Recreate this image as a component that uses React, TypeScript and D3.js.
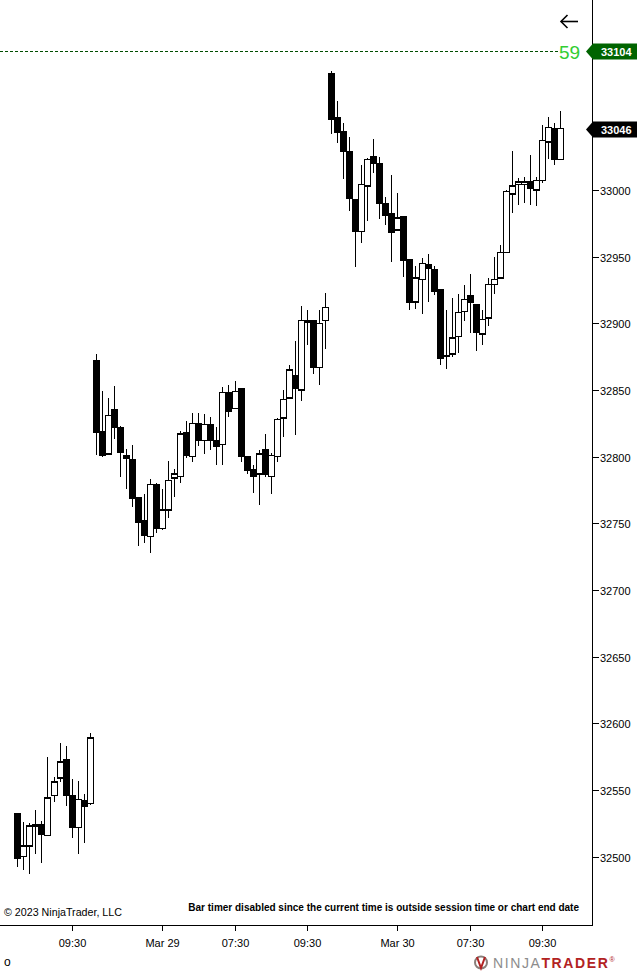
import React from "react";
import * as d3 from "d3";

// OHLC of each bar (YM, 10 min bars)
const opens = [
  32532, 32500, 32508, 32523, 32524, 32516, 32546, 32559, 32573, 32546, 32522, 32542, 32540,
  32872, 32819, 32802, 32835, 32822, 32801, 32798, 32769, 32752, 32740, 32779, 32746, 32760,
  32784, 32785, 32818, 32800, 32825, 32812, 32824, 32812, 32809, 32848, 32836, 32851, 32800,
  32790, 32787, 32805, 32785, 32800, 32829, 32844, 32861, 32850, 32902, 32902, 32867, 32902,
  33087, 33054, 33044, 33029, 32993, 32969, 33003, 33025, 33020, 32990, 32982, 32970, 32980,
  32948, 32916, 32933, 32944, 32940, 32925, 32875, 32877, 32890, 32909, 32921, 32914, 32892,
  32904, 32929, 32934, 32953, 32997, 33004, 33004, 33006, 33000, 33007, 33036, 33046, 33023,
];
const highs = [
  32532, 32526, 32525, 32535, 32527, 32575, 32560, 32585, 32583, 32558, 32557, 32547, 32593,
  32877, 32849, 32844, 32853, 32823, 32806, 32809, 32769, 32772, 32783, 32780, 32776, 32797,
  32791, 32819, 32827, 32833, 32833, 32832, 32830, 32822, 32852, 32854, 32857, 32851, 32800,
  32794, 32805, 32817, 32803, 32829, 32850, 32869, 32887, 32913, 32910, 32902, 32910, 32923,
  33089, 33067, 33050, 33040, 32993, 33019, 33024, 33038, 33025, 32995, 33011, 32998, 32980,
  32948, 32943, 32949, 32952, 32943, 32925, 32910, 32919, 32922, 32929, 32937, 32914, 32910,
  32934, 32950, 32959, 33000, 33029, 33009, 33010, 33026, 33010, 33049, 33055, 33050, 33059,
];
const lows = [
  32492, 32490, 32487, 32502, 32495, 32516, 32541, 32556, 32538, 32514, 32502, 32510, 32539,
  32801, 32800, 32802, 32813, 32785, 32776, 32762, 32733, 32735, 32728, 32743, 32745, 32754,
  32770, 32780, 32799, 32796, 32808, 32802, 32805, 32794, 32794, 32830, 32836, 32796, 32787,
  32773, 32764, 32785, 32772, 32796, 32815, 32844, 32816, 32842, 32884, 32862, 32854, 32881,
  33042, 33035, 33008, 32984, 32942, 32960, 32977, 33013, 32978, 32974, 32946, 32970, 32935,
  32910, 32911, 32907, 32916, 32921, 32869, 32866, 32875, 32878, 32902, 32893, 32879, 32884,
  32898, 32922, 32934, 32953, 32983, 32989, 32990, 32989, 32988, 33005, 33023, 33019, 33023,
];
const closes = [
  32499, 32508, 32523, 32524, 32517, 32544, 32556, 32571, 32546, 32522, 32543, 32538, 32589,
  32818, 32801, 32831, 32822, 32803, 32799, 32769, 32751, 32741, 32779, 32746, 32760, 32782,
  32787, 32817, 32801, 32825, 32812, 32824, 32812, 32808, 32848, 32834, 32849, 32800, 32790,
  32785, 32802, 32787, 32801, 32828, 32843, 32865, 32851, 32902, 32901, 32867, 32900, 32912,
  33053, 33043, 33029, 32994, 32969, 33004, 33023, 33020, 32990, 32981, 32968, 32979, 32947,
  32916, 32934, 32945, 32941, 32924, 32874, 32876, 32889, 32908, 32918, 32916, 32893, 32903,
  32929, 32933, 32953, 32999, 33003, 33006, 33006, 33001, 33007, 33037, 33047, 33023, 33046,
];

const priceTicks = [32500, 32550, 32600, 32650, 32700, 32750, 32800, 32850, 32900, 32950, 33000];
const timeTickBars = [9, 24, 36, 48, 63, 75, 87];
const timeTickLabels = ["09:30", "Mar 29", "07:30", "09:30", "Mar 30", "07:30", "09:30"];

const lastPrice = 33046;
const markerPrice = 33104;
const barTimer = "59";

const W = 637;
const H = 972;
const plotRight = 592;
const plotBottom = 925;
const font = "'Liberation Sans', Arial, sans-serif";

export default function App() {
  const bars = opens.map((o, i) => ({ o, h: highs[i], l: lows[i], c: closes[i], i }));

  const x = d3.scaleLinear().domain([0, bars.length - 1]).range([17.3, 560.3]);
  const y = d3.scaleLinear().domain([32500, 33000]).range([856.7, 190]);
  const bodyW = 5.4;

  const tag = (price: number, fill: string) => {
    const cy = Math.round(y(price)) + 0.5;
    const p = d3.path();
    p.moveTo(586, cy);
    p.lineTo(593, cy - 8);
    p.lineTo(637, cy - 8);
    p.lineTo(637, cy + 8);
    p.lineTo(593, cy + 8);
    p.closePath();
    return (
      <g key={price}>
        <path d={p.toString()} fill={fill} />
        <text x={601} y={cy + 4} fill="#fff" fontSize={11} fontWeight="bold" fontFamily={font}>
          {price}
        </text>
      </g>
    );
  };

  return (
    <svg
      width={W}
      height={H}
      style={{ position: "absolute", left: 0, top: 0, display: "block", background: "#fff" }}
    >
      <rect width={W} height={H} fill="#fff" />

      {/* marker line */}
      <line
        x1={0}
        x2={558}
        y1={Math.round(y(markerPrice)) + 0.5}
        y2={Math.round(y(markerPrice)) + 0.5}
        stroke="#004d00"
        strokeWidth={1}
        strokeDasharray="3,2"
      />

      {/* candles */}
      <g shapeRendering="crispEdges">
        {bars.map((b) => (
          <line
            key={"w" + b.i}
            x1={Math.round(x(b.i)) + 0.5}
            x2={Math.round(x(b.i)) + 0.5}
            y1={y(b.h)}
            y2={y(b.l)}
            stroke="#000"
            strokeWidth={1.3}
          />
        ))}
        {bars.map((b) => {
          const top = y(Math.max(b.o, b.c));
          const bot = y(Math.min(b.o, b.c));
          const up = b.c >= b.o;
          return (
            <rect
              key={"b" + b.i}
              x={Math.round(x(b.i)) + 0.5 - bodyW / 2}
              y={top}
              width={bodyW}
              height={Math.max(bot - top, 1)}
              fill={up ? "#fff" : "#000"}
              stroke="#000"
              strokeWidth={1.2}
            />
          );
        })}
      </g>

      {/* frame */}
      <line x1={plotRight + 0.5} x2={plotRight + 0.5} y1={0} y2={plotBottom} stroke="#000" />
      <line x1={0} x2={plotRight + 1} y1={plotBottom + 0.5} y2={plotBottom + 0.5} stroke="#000" />

      {/* price axis */}
      {priceTicks.map((t) => {
        const ty = Math.round(y(t)) + 0.5;
        return (
          <g key={t}>
            <line x1={plotRight} x2={plotRight + 7} y1={ty} y2={ty} stroke="#000" />
            <text x={600} y={ty + 4} fontSize={11} fontFamily={font} fill="#000">
              {t}
            </text>
          </g>
        );
      })}

      {/* time axis */}
      {timeTickBars.map((bi, k) => {
        const tx = Math.round(x(bi)) + 0.5;
        return (
          <g key={k}>
            <line x1={tx} x2={tx} y1={plotBottom} y2={plotBottom + 6} stroke="#000" />
            <text x={tx} y={947} fontSize={11} fontFamily={font} textAnchor="middle" fill="#000">
              {timeTickLabels[k]}
            </text>
          </g>
        );
      })}

      {tag(markerPrice, "#006400")}
      {tag(lastPrice, "#000")}

      {/* bar timer */}
      <text x={559} y={59} fontSize={19} fontFamily={font} fill="#32CD32">
        {barTimer}
      </text>

      {/* back arrow */}
      <g stroke="#000" strokeWidth={1.6} fill="none">
        <line x1={561} x2={578} y1={21.5} y2={21.5} />
        <polyline points="567.5,15 561,21.5 567.5,28" />
      </g>

      <text x={4} y={916} fontSize={10.7} fontFamily={font} fill="#000">
        © 2023 NinjaTrader, LLC
      </text>
      <text x={579} y={911} fontSize={10} fontWeight="bold" fontFamily={font} fill="#000" textAnchor="end">
        Bar timer disabled since the current time is outside session time or chart end date
      </text>
      <text x={4} y={966} fontSize={12} fontFamily={font} fill="#000">
        o
      </text>

      {/* logo */}
      <g>
        <circle cx={481} cy={962.5} r={6} fill="none" stroke="#8a7f7a" strokeWidth={2} />
        <path d="M477,957 L481,968 L485,957" fill="none" stroke="#b22222" strokeWidth={2} />
        <text x={493} y={968} fontSize={14} fontFamily={font} letterSpacing={1.6}>
          <tspan fill="#8c8c8c">NINJA</tspan>
          <tspan fill="#b22222" fontWeight="bold">TRADER</tspan>
          <tspan fill="#b22222" fontSize={7} dy={-6}>®</tspan>
        </text>
      </g>
    </svg>
  );
}
